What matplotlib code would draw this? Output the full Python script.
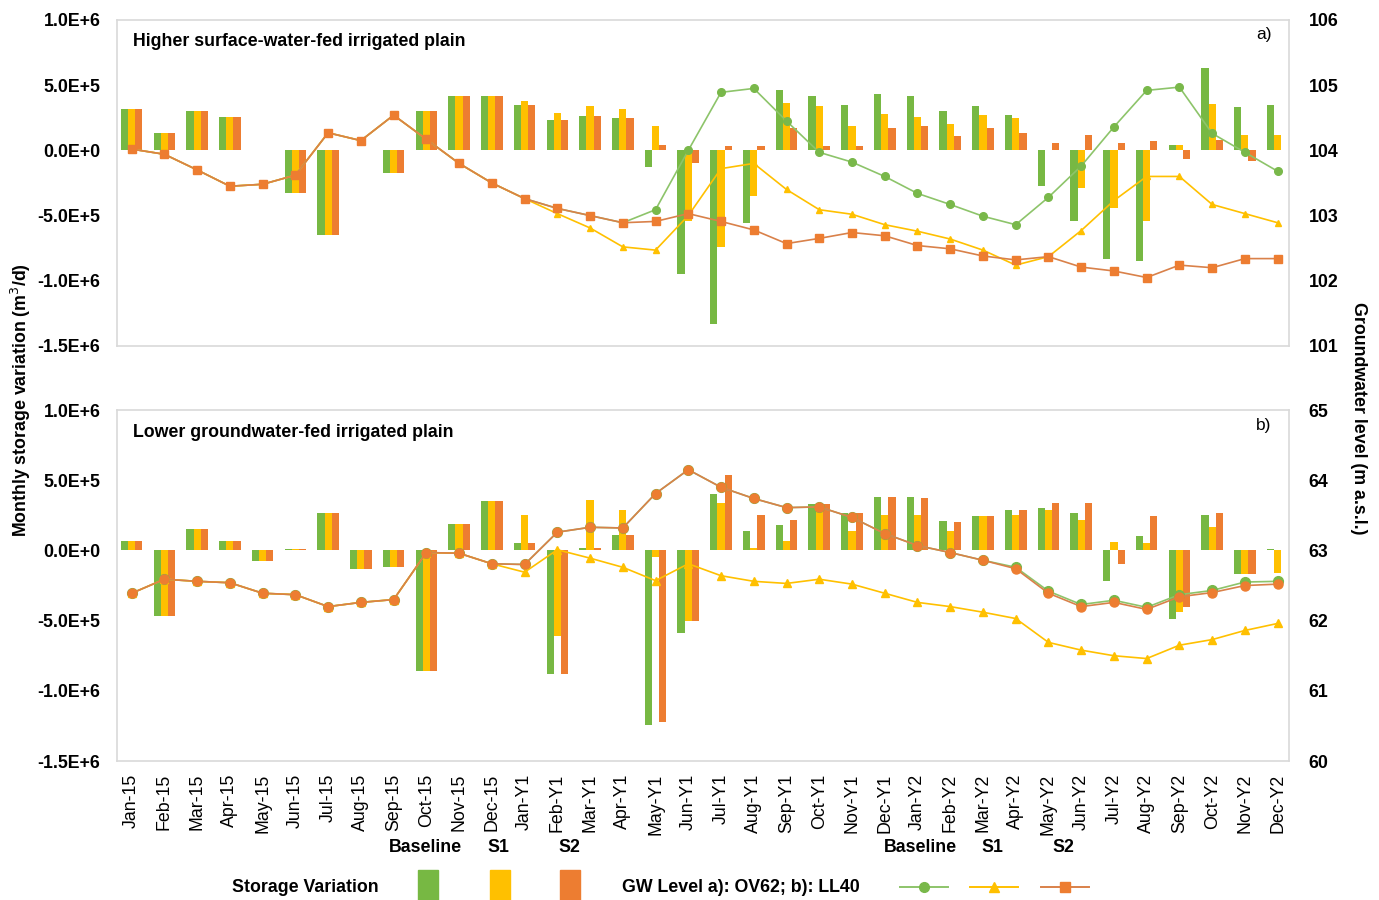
import numpy as np
import matplotlib
matplotlib.use('Agg')
import matplotlib.pyplot as plt
from matplotlib.lines import Line2D
from matplotlib.patches import Rectangle
from matplotlib.ticker import FuncFormatter

plt.rcParams['font.family'] = ['Liberation Sans', 'DejaVu Sans']

months = ['Jan-15', 'Feb-15', 'Mar-15', 'Apr-15', 'May-15', 'Jun-15',
          'Jul-15', 'Aug-15', 'Sep-15', 'Oct-15', 'Nov-15', 'Dec-15',
          'Jan-Y1', 'Feb-Y1', 'Mar-Y1', 'Apr-Y1', 'May-Y1', 'Jun-Y1',
          'Jul-Y1', 'Aug-Y1', 'Sep-Y1', 'Oct-Y1', 'Nov-Y1', 'Dec-Y1',
          'Jan-Y2', 'Feb-Y2', 'Mar-Y2', 'Apr-Y2', 'May-Y2', 'Jun-Y2',
          'Jul-Y2', 'Aug-Y2', 'Sep-Y2', 'Oct-Y2', 'Nov-Y2', 'Dec-Y2']

# (a) higher surface-water-fed plain: storage variation (m3/d)
a_base = [3.2e5, 1.3e5, 3.0e5, 2.55e5, 0, -3.3e5, -6.5e5, 0, -1.7e5, 3.0e5, 4.2e5, 4.2e5,
          3.5e5, 2.3e5, 2.6e5, 2.5e5, -1.3e5, -9.5e5, -1.33e6, -5.6e5, 4.6e5, 4.15e5, 3.45e5, 4.3e5,
          4.15e5, 3.0e5, 3.4e5, 2.7e5, -2.7e5, -5.4e5, -8.3e5, -8.5e5, 0.4e5, 6.3e5, 3.3e5, 3.45e5]
a_s1 = [3.2e5, 1.3e5, 3.0e5, 2.55e5, 0, -3.3e5, -6.5e5, 0, -1.7e5, 3.0e5, 4.2e5, 4.2e5,
        3.8e5, 2.85e5, 3.4e5, 3.15e5, 1.9e5, -5.4e5, -7.4e5, -3.5e5, 3.6e5, 3.4e5, 1.9e5, 2.8e5,
        2.55e5, 2.0e5, 2.7e5, 2.45e5, 0, -2.9e5, -4.4e5, -5.4e5, 0.4e5, 3.55e5, 1.2e5, 1.2e5]
a_s2 = [3.2e5, 1.3e5, 3.0e5, 2.55e5, 0, -3.3e5, -6.5e5, 0, -1.7e5, 3.0e5, 4.2e5, 4.2e5,
        3.5e5, 2.3e5, 2.6e5, 2.5e5, 0.4e5, -1.0e5, 0.3e5, 0.3e5, 1.7e5, 0.3e5, 0.3e5, 1.7e5,
        1.9e5, 1.1e5, 1.7e5, 1.3e5, 0.6e5, 1.15e5, 0.6e5, 0.75e5, -0.7e5, 0.8e5, -0.85e5, 0]

# (a) groundwater level at OV62 (m a.s.l.)
a_gw_s2 = [104.02, 103.94, 103.70, 103.45, 103.48, 103.62, 104.27, 104.15, 104.54, 104.17, 103.80, 103.50,
           103.26, 103.11, 103.00, 102.89, 102.91, 103.03, 102.91, 102.78, 102.57, 102.65, 102.74, 102.69,
           102.54, 102.49, 102.38, 102.32, 102.37, 102.21, 102.15, 102.05, 102.24, 102.20, 102.34, 102.34]
a_gw_s1 = [104.02, 103.94, 103.70, 103.45, 103.48, 103.62, 104.27, 104.15, 104.54, 104.17, 103.80, 103.50,
           103.26, 103.03, 102.81, 102.52, 102.47, 103.00, 103.72, 103.80, 103.40, 103.09, 103.02, 102.86,
           102.76, 102.64, 102.47, 102.24, 102.37, 102.77, 103.23, 103.60, 103.60, 103.17, 103.03, 102.89]
a_gw_base = [104.02, 103.94, 103.70, 103.45, 103.48, 103.62, 104.27, 104.15, 104.54, 104.17, 103.80, 103.50,
             103.26, 103.11, 103.00, 102.89, 103.09, 104.00, 104.89, 104.95, 104.45, 103.97, 103.82, 103.60,
             103.34, 103.17, 102.99, 102.86, 103.28, 103.76, 104.36, 104.92, 104.97, 104.26, 103.97, 103.68]

# (b) lower groundwater-fed plain: storage variation (m3/d)
b_base = [0.7e5, -4.7e5, 1.5e5, 0.7e5, -0.75e5, 0.1e5, 2.7e5, -1.35e5, -1.2e5, -8.6e5, 1.9e5, 3.5e5,
          0.5e5, -8.8e5, 0.2e5, 1.1e5, -1.24e6, -5.9e5, 4.0e5, 1.35e5, 1.8e5, 3.3e5, 2.65e5, 3.8e5,
          3.8e5, 2.1e5, 2.45e5, 2.9e5, 3.0e5, 2.65e5, -2.15e5, 1.0e5, -4.85e5, 2.5e5, -1.7e5, 0.1e5]
b_s1 = [0.7e5, -4.7e5, 1.5e5, 0.7e5, -0.75e5, 0.1e5, 2.7e5, -1.35e5, -1.2e5, -8.6e5, 1.9e5, 3.5e5,
        2.5e5, -6.1e5, 3.6e5, 2.9e5, -0.5e5, -5.0e5, 3.4e5, 0.2e5, 0.65e5, 3.0e5, 1.35e5, 2.55e5,
        2.5e5, 1.35e5, 2.45e5, 2.55e5, 2.85e5, 2.15e5, 0.6e5, 0.55e5, -4.35e5, 1.65e5, -1.7e5, -1.6e5]
b_s2 = [0.7e5, -4.7e5, 1.5e5, 0.7e5, -0.75e5, 0.1e5, 2.7e5, -1.35e5, -1.2e5, -8.6e5, 1.9e5, 3.5e5,
        0.5e5, -8.8e5, 0.2e5, 1.1e5, -1.22e6, -5.0e5, 5.4e5, 2.5e5, 2.2e5, 3.3e5, 2.65e5, 3.8e5,
        3.75e5, 2.05e5, 2.45e5, 2.85e5, 3.4e5, 3.4e5, -1.0e5, 2.45e5, -4.05e5, 2.65e5, -1.7e5, 0]

# (b) groundwater level at LL40 (m a.s.l.)
b_gw_s2 = [62.39, 62.59, 62.56, 62.54, 62.39, 62.37, 62.20, 62.26, 62.30, 62.97, 62.96, 62.81,
           62.80, 63.26, 63.33, 63.32, 63.81, 64.15, 63.90, 63.74, 63.61, 63.62, 63.47, 63.24,
           63.07, 62.97, 62.86, 62.74, 62.39, 62.20, 62.26, 62.16, 62.34, 62.40, 62.50, 62.52]
b_gw_s1 = [62.39, 62.59, 62.56, 62.54, 62.39, 62.37, 62.20, 62.26, 62.30, 62.97, 62.96, 62.81,
           62.69, 63.01, 62.89, 62.76, 62.57, 62.81, 62.64, 62.56, 62.53, 62.59, 62.52, 62.39,
           62.26, 62.20, 62.12, 62.03, 61.69, 61.58, 61.50, 61.46, 61.65, 61.73, 61.86, 61.96]
b_gw_base = [62.39, 62.59, 62.56, 62.54, 62.39, 62.37, 62.20, 62.26, 62.30, 62.97, 62.96, 62.81,
             62.80, 63.26, 63.33, 63.32, 63.81, 64.15, 63.90, 63.74, 63.61, 63.62, 63.47, 63.24,
             63.07, 62.97, 62.86, 62.76, 62.42, 62.23, 62.29, 62.19, 62.37, 62.43, 62.55, 62.56]

GREEN = '#77B843'
YELLOW = '#FFC000'
ORANGE = '#ED7D31'
GREEN_LN = '#8DC46A'
ORANGE_LN = '#D9814A'
FRAME = '#D9D9D9'
FS = 12.8


def sci_fmt(v, pos):
    s = '{:.1E}'.format(v)
    mant, exp = s.split('E')
    return '{}E{}{}'.format(mant, exp[0], int(exp[1:]))


def draw_panel(ax, base, s1, s2, gw_base, gw_s1, gw_s2, gw_lim, title, tag,
               s2_marker, ms_base, ms_s1, ms_s2):
    x = np.arange(len(months))
    w = 0.22
    ax.bar(x - w, base, w, color=GREEN, zorder=2)
    ax.bar(x, s1, w, color=YELLOW, zorder=2)
    ax.bar(x + w, s2, w, color=ORANGE, zorder=2)
    ax.set_ylim(-1.5e6, 1.0e6)
    ax.set_yticks([-1.5e6, -1.0e6, -5e5, 0, 5e5, 1.0e6])
    ax.yaxis.set_major_formatter(FuncFormatter(sci_fmt))
    ax.set_xlim(-0.45, 35.35)
    ax.set_xticks(x)
    for sp in ax.spines.values():
        sp.set_color(FRAME)
        sp.set_linewidth(1.2)
    ax.tick_params(length=0, labelsize=FS, pad=12)
    for t in ax.get_yticklabels():
        t.set_fontweight('bold')
    ax.text(0.014, 0.935, title, transform=ax.transAxes, fontsize=FS,
            fontweight='bold', va='center', ha='left')
    ax.text(0.985, 0.955, tag, transform=ax.transAxes, fontsize=12.5,
            va='center', ha='right')

    ax2 = ax.twinx()
    ax2.plot(x, gw_base, color=GREEN_LN, lw=1.2, marker='o', ms=ms_base,
             markerfacecolor='#79B84A', markeredgecolor='#79B84A', zorder=3)
    ax2.plot(x, gw_s1, color=YELLOW, lw=1.2, marker='^', ms=ms_s1, zorder=3)
    ax2.plot(x, gw_s2, color=ORANGE_LN, lw=1.2, marker=s2_marker, ms=ms_s2, zorder=4,
             markerfacecolor=ORANGE, markeredgecolor=ORANGE)
    ax2.set_ylim(*gw_lim)
    ax2.set_yticks(np.arange(gw_lim[0], gw_lim[1] + 1))
    for sp in ax2.spines.values():
        sp.set_visible(False)
    ax2.tick_params(length=0, labelsize=FS, pad=14)
    for t in ax2.get_yticklabels():
        t.set_fontweight('bold')
    return ax2


fig = plt.figure(figsize=(13.79, 9), dpi=100)
ax_a = fig.add_axes([0.0848, 0.6156, 0.85, 0.3622])
ax_b = fig.add_axes([0.0848, 0.1544, 0.85, 0.39])

draw_panel(ax_a, a_base, a_s1, a_s2, a_gw_base, a_gw_s1, a_gw_s2, (101, 106),
           'Higher surface-water-fed irrigated plain', 'a)', 's', 5.5, 5, 5.5)
draw_panel(ax_b, b_base, b_s1, b_s2, b_gw_base, b_gw_s1, b_gw_s2, (60, 65),
           'Lower groundwater-fed irrigated plain', 'b)', 'o', 7, 5.5, 6.5)

ax_a.set_xticklabels([])
ax_b.set_xticklabels(months, rotation=90, fontsize=FS)
ax_b.tick_params(axis='x', pad=9)
for t in ax_b.get_xticklabels():
    t.set_fontweight('normal')

fig.text(0.015, 0.555, 'Monthly storage variation (m$^3$/d)', rotation=90,
         fontsize=FS, fontweight='bold', ha='center', va='center')
fig.text(0.985, 0.535, 'Groundwater level (m a.s.l.)', rotation=270,
         fontsize=FS, fontweight='bold', ha='center', va='center')

# legend row along the bottom
W, H = 1379.0, 900.0
hdr_y = 1 - 848 / H
row_y = 1 - 887 / H
for label, px in [('Baseline', 425), ('S1', 498), ('S2', 569)]:
    fig.text(px / W, hdr_y, label, fontsize=FS, fontweight='bold', ha='center', va='center')
for label, px in [('Baseline', 920), ('S1', 992), ('S2', 1063)]:
    fig.text(px / W, hdr_y, label, fontsize=FS, fontweight='bold', ha='center', va='center')
fig.text(232 / W, row_y, 'Storage Variation', fontsize=FS, fontweight='bold',
         ha='left', va='center')
fig.text(622 / W, row_y, 'GW Level a): OV62; b): LL40', fontsize=FS, fontweight='bold',
         ha='left', va='center')
for col, px in [(GREEN, 428), (YELLOW, 500), (ORANGE, 570)]:
    fig.add_artist(Rectangle(((px - 10) / W, 0), 20 / W, (900 - 870) / H,
                             transform=fig.transFigure, color=col))
for col, mcol, mk, px in [(GREEN_LN, '#79B84A', 'o', 924), (YELLOW, YELLOW, '^', 994),
                          (ORANGE_LN, ORANGE, 's', 1065)]:
    fig.add_artist(Line2D([(px - 24) / W, (px + 24) / W], [row_y, row_y],
                          transform=fig.transFigure, color=col, lw=1.4))
    fig.add_artist(Line2D([px / W], [row_y], transform=fig.transFigure, color=mcol,
                          marker=mk, ms=7, lw=0))

fig.savefig('out.png', dpi=100)
